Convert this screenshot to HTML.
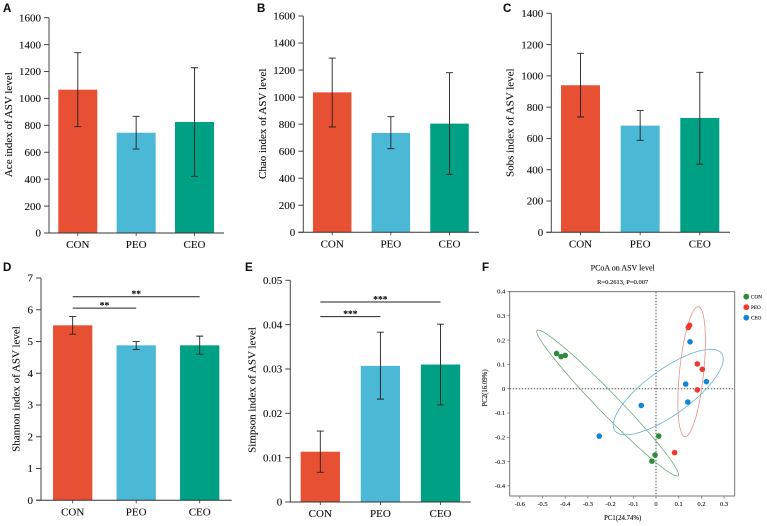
<!DOCTYPE html>
<html lang="en">
<head>
<meta charset="utf-8">
<title>Alpha diversity and PCoA on ASV level</title>
<style>
html,body{margin:0;padding:0;background:#fff;}
body{width:767px;height:526px;overflow:hidden;}
svg{display:block;font-family:"Liberation Serif",serif;filter:blur(0.3px);}
text{stroke:currentColor;stroke-width:0.12px;color:#111;}
</style>
</head>
<body>
<svg id="figure" xmlns="http://www.w3.org/2000/svg" width="767" height="526" viewBox="0 0 767 526"></svg>
<script>
// Shared categories
var categories = ['CON', 'PEO', 'CEO'];

// Panel A
var aceValues = [1065, 745, 825];
var aceUpper = [1340, 867, 1228];
var aceLower = [790, 624, 421];
var aceTicks = [0, 200, 400, 600, 800, 1000, 1200, 1400, 1600];
// Panel B
var chaoValues = [1035, 735, 804];
var chaoUpper = [1289, 855, 1181];
var chaoLower = [779, 619, 429];
var chaoTicks = [0, 200, 400, 600, 800, 1000, 1200, 1400, 1600];
// Panel C
var sobsValues = [940, 682, 731];
var sobsUpper = [1144, 778, 1023];
var sobsLower = [737, 588, 435];
var sobsTicks = [0, 200, 400, 600, 800, 1000, 1200, 1400];
// Panel D
var shannonValues = [5.51, 4.88, 4.88];
var shannonUpper = [5.79, 5.0, 5.17];
var shannonLower = [5.23, 4.75, 4.6];
var shannonTicks = [0, 1, 2, 3, 4, 5, 6, 7];
var shannonSigLevels = [6.05, 6.41];
var shannonSigTargets = [1, 2];
// Panel E
var simpsonValues = [0.01135, 0.0307, 0.031];
var simpsonUpper = [0.016, 0.0383, 0.0401];
var simpsonLower = [0.0067, 0.0232, 0.0219];
var simpsonTicks = [0, 0.01, 0.02, 0.03, 0.04, 0.05];
var simpsonTickLabels = ['0', '0.01', '0.02', '0.03', '0.04', '0.05'];
var simpsonSigLevels = [0.0418, 0.0451];
var simpsonSigTargets = [1, 2];
// Panel F
var pcoaXTicks = [-0.6, -0.5, -0.4, -0.3, -0.2, -0.1, 0, 0.1, 0.2, 0.3];
var pcoaYTicks = [-0.4, -0.3, -0.2, -0.1, 0, 0.1, 0.2, 0.3, 0.4];
var conPc1 = [-0.438, -0.418, -0.4, 0.012, -0.004, -0.018];
var conPc2 = [0.145, 0.132, 0.137, -0.195, -0.273, -0.298];
var peoPc1 = [0.148, 0.142, 0.182, 0.204, 0.182, 0.082];
var peoPc2 = [0.261, 0.252, 0.102, 0.08, -0.005, -0.263];
var ceoPc1 = [0.15, 0.131, 0.222, 0.14, -0.065, -0.25];
var ceoPc2 = [0.193, 0.019, 0.029, -0.055, -0.069, -0.195];
// Ellipse centre and two semi-axis vectors, in data units: [cx, cy, ax, ay, bx, by]
var conEllipse = [-0.213, -0.059, 0.3106, -0.299, 0.0327, 0.0296];
var peoEllipse = [0.157, 0.07, 0.0294, 0.2675, 0.0529, -0.005];
var ceoEllipse = [0.054, -0.0137, 0.235, 0.159, 0.0587, -0.0754];

var NS = 'http://www.w3.org/2000/svg';
var root = document.getElementById('figure');
var barColors = ['#e85033', '#4bb8d5', '#00a084'];
var dotColors = {CON: '#2e8b3a', PEO: '#f0392f', CEO: '#0f86d8'};
var ringColors = {CON: '#6fae7c', PEO: '#e9908a', CEO: '#62b6d8'};

function make(tag, attrs, parent, content) {
  var node = document.createElementNS(NS, tag);
  for (var k in attrs) node.setAttribute(k, attrs[k]);
  if (content !== undefined) node.textContent = content;
  parent.appendChild(node);
  return node;
}

function drawBarPanel(p) {
  var g = make('g', {}, root);
  
  
  var maxV = p.ticks[p.ticks.length - 1];
  function yScale(v) { return p.y0 - (v / maxV) * (p.y0 - p.yTop); }
  function xScale(i) { return p.cx0 + i * p.step; }

  var letter = make('text', {x: p.letterX, y: p.letterY, 'font-family': '"Liberation Sans",sans-serif', 'font-weight': 'bold', 'font-size': 11.5, fill: '#111'}, g, p.letter);
  
  

  p.values.forEach(function (v, i) {
    var bar = make('rect', {x: xScale(i) - p.barW / 2, y: yScale(v), width: p.barW, height: p.y0 - yScale(v), fill: barColors[i]}, g);
    
    
  });

  p.values.forEach(function (v, i) {
    var cx = xScale(i);
    var up = yScale(p.upper[i]);
    var lo = yScale(p.lower[i]);
    var err = make('path', {d: 'M' + cx + ' ' + up + 'V' + lo + 'M' + (cx - 3.5) + ' ' + up + 'H' + (cx + 3.5) + 'M' + (cx - 3.5) + ' ' + lo + 'H' + (cx + 3.5), fill: 'none', stroke: '#222', 'stroke-width': 0.9}, g);
    
    
  });

  var yAxis = make('line', {x1: p.axisX, x2: p.axisX, y1: p.yTop, y2: p.y0, stroke: '#444', 'stroke-width': 1}, g);
  
  
  var xAxis = make('line', {x1: p.axisX - 5, x2: p.axisEnd, y1: p.y0, y2: p.y0, stroke: '#333', 'stroke-width': 1}, g);
  
  

  p.ticks.forEach(function (t, i) {
    var y = yScale(t);
    var tick = make('line', {x1: p.axisX - 5, x2: p.axisX, y1: y, y2: y, stroke: '#444', 'stroke-width': 1}, g);
    
    
    var label = make('text', {x: p.axisX - 8, y: y + 3.7, 'text-anchor': 'end', 'font-size': 11, fill: '#111'}, g, p.tickLabels ? p.tickLabels[i] : String(t));
    
    
  });

  categories.forEach(function (c, i) {
    var cx = xScale(i);
    var tick = make('line', {x1: cx, x2: cx, y1: p.y0, y2: p.y0 + 3, stroke: '#333', 'stroke-width': 0.8}, g);
    
    
    var label = make('text', {x: cx, y: p.y0 + 15, 'text-anchor': 'middle', 'font-size': 11, fill: '#111'}, g, c);
    
    
  });

  var title = make('text', {transform: 'translate(' + p.titleX + ' ' + p.titleY + ') rotate(-90)', 'text-anchor': 'middle', 'font-size': 11, fill: '#111'}, g, p.title);
  
  

  if (p.sigLevels) {
    p.sigLevels.forEach(function (lvl, i) {
      var x1 = xScale(0);
      var x2 = xScale(p.sigTargets[i]);
      var y = yScale(lvl);
      var line = make('line', {x1: x1, x2: x2, y1: y, y2: y, stroke: '#222', 'stroke-width': 1}, g);
      
      
      var stars = make('text', {x: (x1 + x2) / 2, y: y + 0.5, 'text-anchor': 'middle', 'font-size': 9.5, 'font-weight': 'bold', fill: '#111'}, g, p.sigText);
      
      
    });
  }
}

drawBarPanel({key: 'ace', letter: 'A', letterX: 3, letterY: 12, title: 'Ace index of ASV level', titleX: 12, titleY: 124.7,
  values: aceValues, upper: aceUpper, lower: aceLower, ticks: aceTicks,
  axisX: 49, axisEnd: 224, y0: 233, yTop: 17.7, cx0: 77.8, step: 58.35, barW: 39});
drawBarPanel({key: 'chao', letter: 'B', letterX: 257, letterY: 12, title: 'Chao index of ASV level', titleX: 266, titleY: 123.8,
  values: chaoValues, upper: chaoUpper, lower: chaoLower, ticks: chaoTicks,
  axisX: 303.3, axisEnd: 479, y0: 232.3, yTop: 16, cx0: 332.2, step: 58.65, barW: 38.5});
drawBarPanel({key: 'sobs', letter: 'C', letterX: 503, letterY: 12, title: 'Sobs index of ASV level', titleX: 513.5, titleY: 122.7,
  values: sobsValues, upper: sobsUpper, lower: sobsLower, ticks: sobsTicks,
  axisX: 551.3, axisEnd: 730, y0: 232.3, yTop: 13.3, cx0: 580.5, step: 59.65, barW: 39});
drawBarPanel({key: 'shannon', letter: 'D', letterX: 3, letterY: 271, title: 'Shannon index of ASV level', titleX: 19.5, titleY: 389,
  values: shannonValues, upper: shannonUpper, lower: shannonLower, ticks: shannonTicks,
  axisX: 41, axisEnd: 231.7, y0: 500.3, yTop: 278, cx0: 72.7, step: 63.5, barW: 39.3,
  sigLevels: shannonSigLevels, sigTargets: shannonSigTargets, sigText: '**'});
drawBarPanel({key: 'simpson', letter: 'E', letterX: 245, letterY: 271, title: 'Simpson index of ASV level', titleX: 255.5, titleY: 390,
  values: simpsonValues, upper: simpsonUpper, lower: simpsonLower, ticks: simpsonTicks, tickLabels: simpsonTickLabels,
  axisX: 290.3, axisEnd: 470.7, y0: 502, yTop: 280.3, cx0: 320.3, step: 60.1, barW: 39.3,
  sigLevels: simpsonSigLevels, sigTargets: simpsonSigTargets, sigText: '***'});

// PCoA panel
(function () {
  var g = make('g', {}, root);
  
  
  var L = 509.7, R = 734.7, T = 291.7, B = 496;
  function xS(v) { return 656 + v * 227; }
  function yS(v) { return 388.7 - v * 243; }

  var letter = make('text', {x: 482, y: 271, 'font-family': '"Liberation Sans",sans-serif', 'font-weight': 'bold', 'font-size': 11.5, fill: '#111'}, g, 'F');
  
  

  var title = make('text', {x: 622.7, y: 270.5, 'text-anchor': 'middle', 'font-size': 8, fill: '#111'}, g, 'PCoA on ASV level');
  
  
  var sub = make('text', {x: 622.7, y: 284, 'text-anchor': 'middle', 'font-size': 6.5, fill: '#111'}, g, 'R=0.2613, P=0.007');
  
  

  var frame = make('rect', {x: L, y: T, width: R - L, height: B - T, fill: 'none', stroke: '#666', 'stroke-width': 0.9}, g);
  
  

  var zeroV = make('line', {x1: xS(0), x2: xS(0), y1: T, y2: B, stroke: '#555', 'stroke-width': 1, 'stroke-dasharray': '1.5 1.5'}, g);
  
  
  var zeroH = make('line', {x1: L, x2: R, y1: yS(0), y2: yS(0), stroke: '#555', 'stroke-width': 1, 'stroke-dasharray': '1.5 1.5'}, g);
  
  

  pcoaXTicks.forEach(function (t) {
    var x = xS(t);
    var tick = make('line', {x1: x, x2: x, y1: B, y2: B + 2.5, stroke: '#666', 'stroke-width': 0.7}, g);
    
    
    var label = make('text', {x: x, y: B + 10, 'text-anchor': 'middle', 'font-size': 6.5, fill: '#222'}, g, t === 0 ? '0' : t.toFixed(1));
    
    
  });
  pcoaYTicks.forEach(function (t) {
    var y = yS(t);
    var tick = make('line', {x1: L - 2.5, x2: L, y1: y, y2: y, stroke: '#666', 'stroke-width': 0.7}, g);
    
    
    var label = make('text', {x: L - 4.5, y: y + 2.2, 'text-anchor': 'end', 'font-size': 6.5, fill: '#222'}, g, t === 0 ? '0' : t.toFixed(1));
    
    
  });

  var xt = make('text', {x: 622.7, y: 520, 'text-anchor': 'middle', 'font-size': 6.8, fill: '#111'}, g, 'PC1(24.74%)');
  
  
  var yt = make('text', {transform: 'translate(487 388) rotate(-90)', 'text-anchor': 'middle', 'font-size': 6.8, fill: '#111'}, g, 'PC2(16.09%)');
  
  

  function drawEllipse(e, name, color) {
    var d = '';
    for (var k = 0; k <= 96; k++) {
      var t = k / 96 * Math.PI * 2;
      var px = xS(e[0] + e[2] * Math.cos(t) + e[4] * Math.sin(t));
      var py = yS(e[1] + e[3] * Math.cos(t) + e[5] * Math.sin(t));
      d += (k ? 'L' : 'M') + px.toFixed(2) + ' ' + py.toFixed(2);
    }
    var ring = make('path', {d: d + 'Z', fill: 'none', stroke: color, 'stroke-width': 0.8}, g);
    
    
  }
  drawEllipse(conEllipse, 'con', ringColors.CON);
  drawEllipse(peoEllipse, 'peo', ringColors.PEO);
  drawEllipse(ceoEllipse, 'ceo', ringColors.CEO);

  function drawPoints(xs, ys, name, color) {
    xs.forEach(function (v, i) {
      var dot = make('circle', {cx: xS(v), cy: yS(ys[i]), r: 2.8, fill: color}, g);
      
      
    });
  }
  drawPoints(conPc1, conPc2, 'con', dotColors.CON);
  drawPoints(peoPc1, peoPc2, 'peo', dotColors.PEO);
  drawPoints(ceoPc1, ceoPc2, 'ceo', dotColors.CEO);

  categories.forEach(function (c, i) {
    var y = 296.7 + i * 10.5;
    var dot = make('circle', {cx: 746.3, cy: y, r: 2.9, fill: dotColors[c]}, g);
    
    
    var label = make('text', {x: 751, y: y + 1.8, 'font-size': 5.2, fill: '#222'}, g, c);
    
    
  });
})();
</script>
</body>
</html>
